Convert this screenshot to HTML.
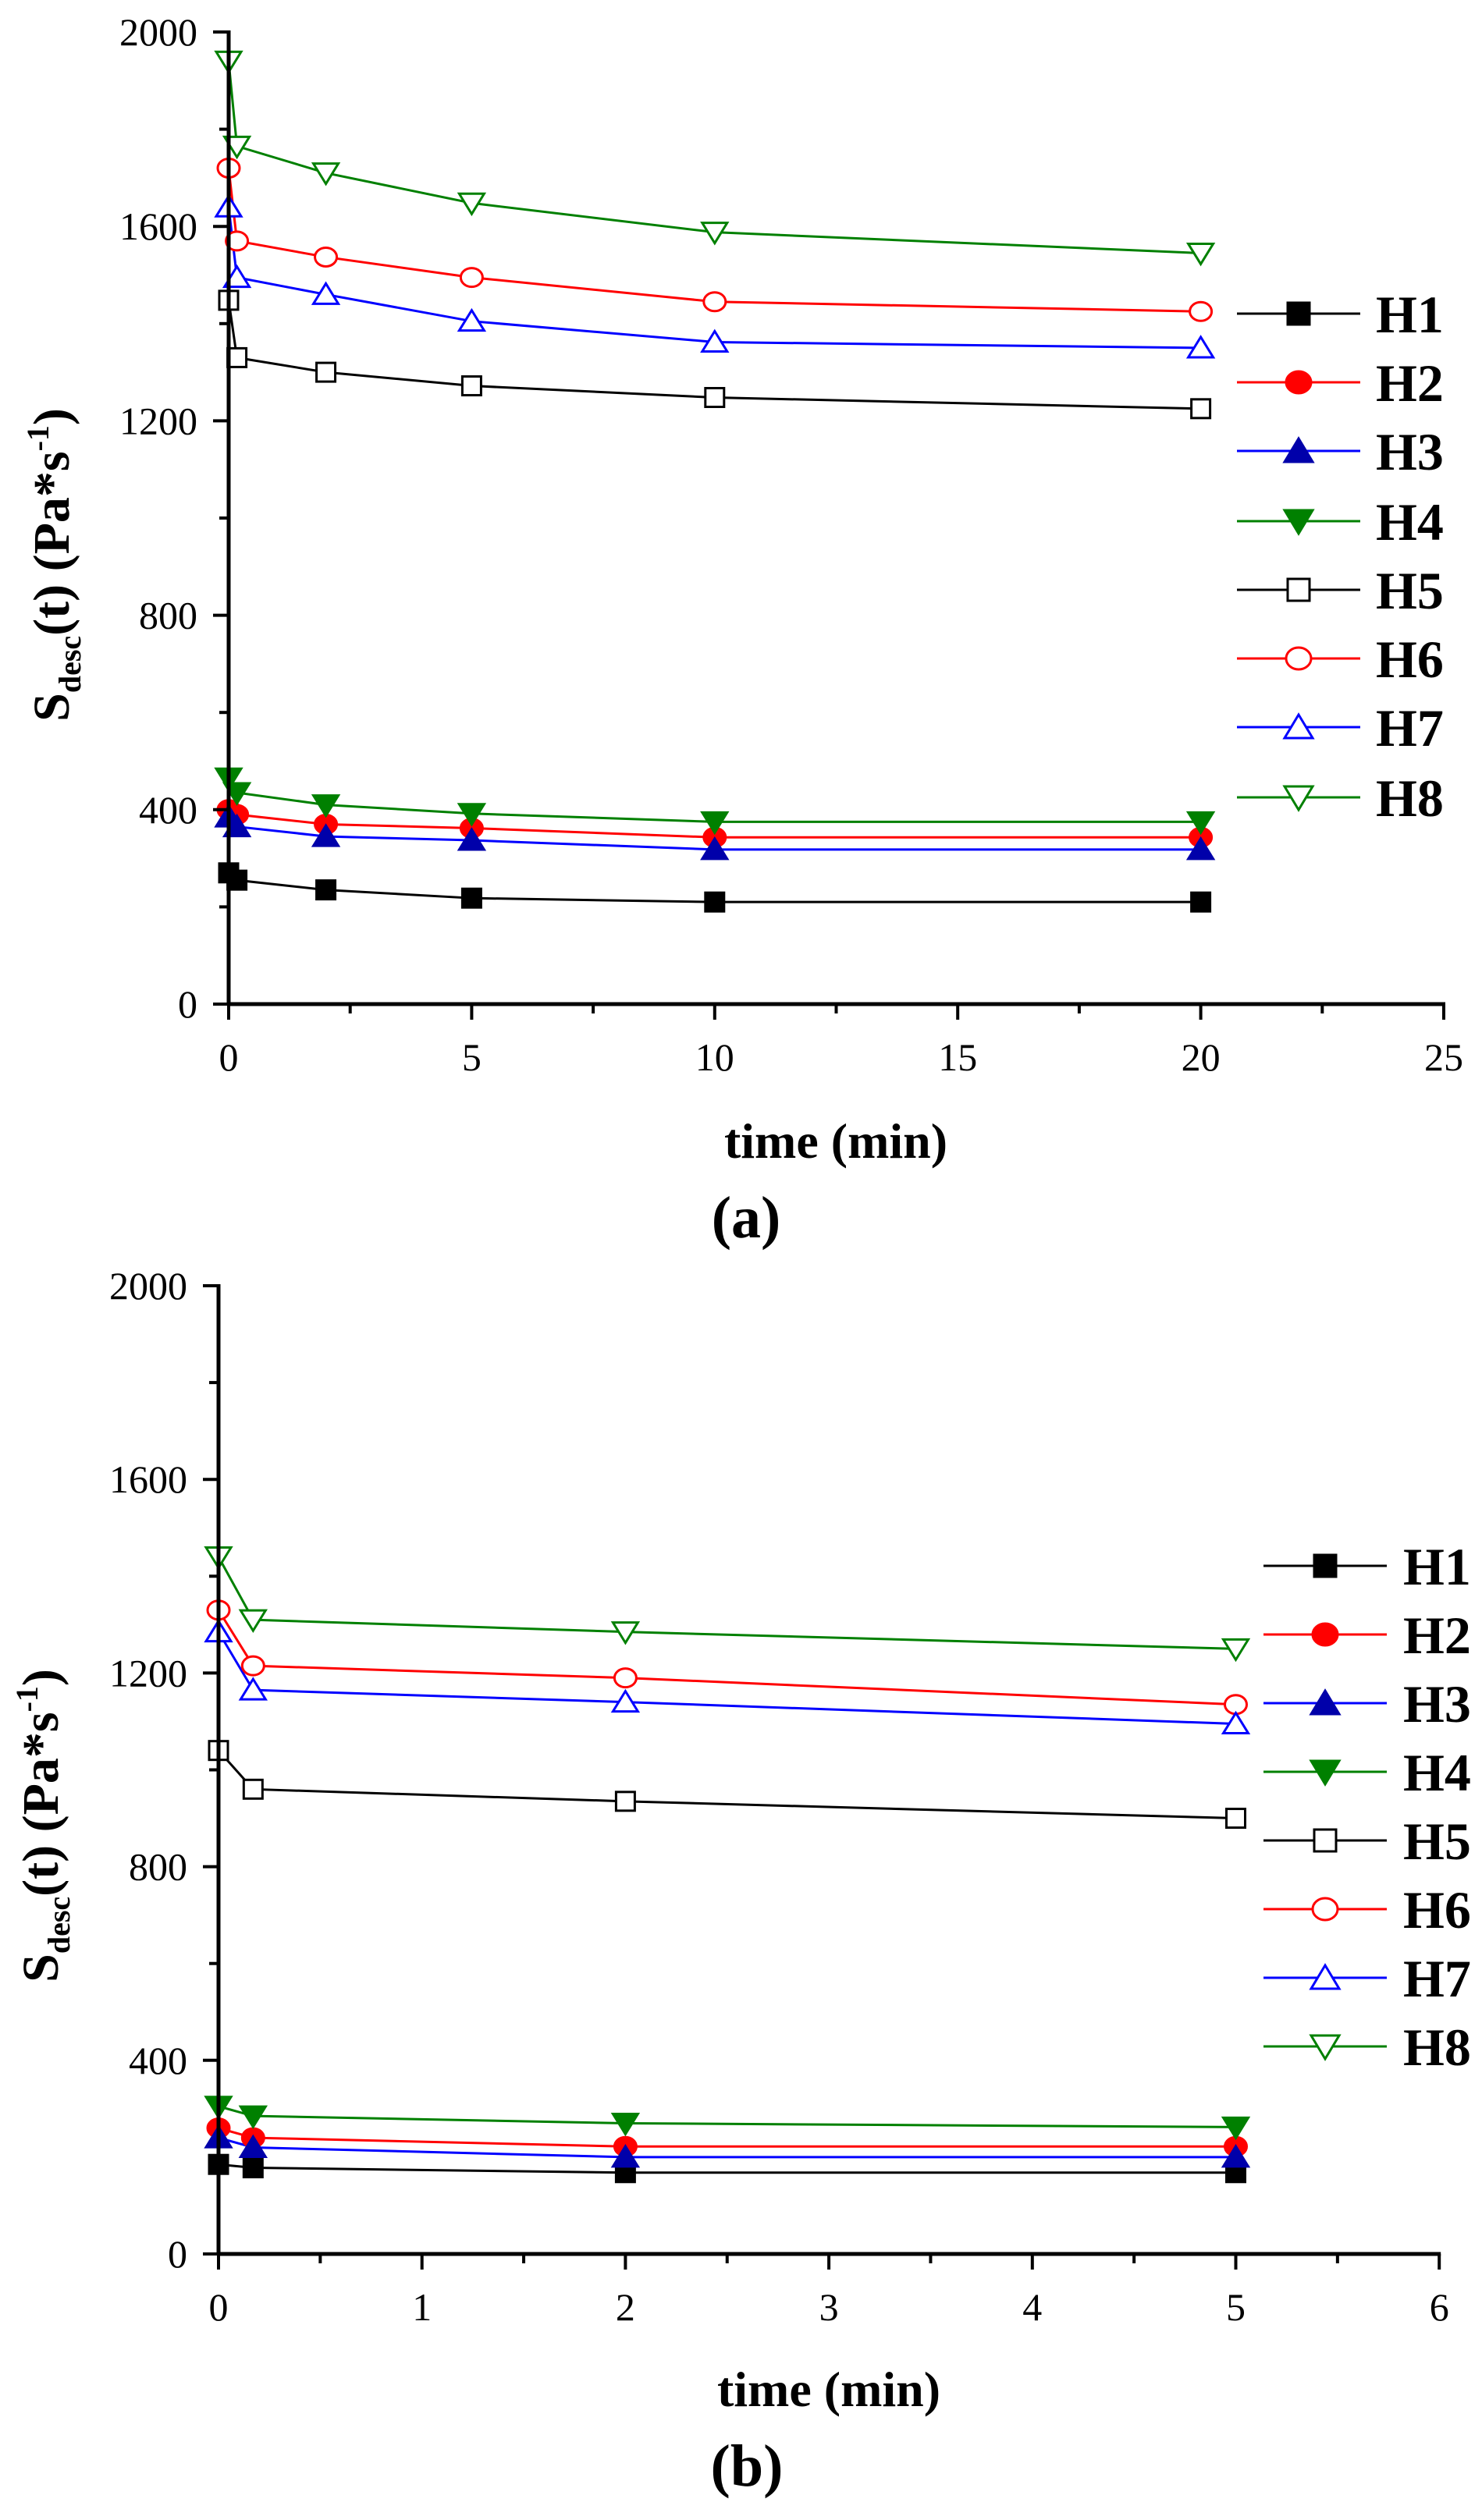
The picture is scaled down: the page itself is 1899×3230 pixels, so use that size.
<!DOCTYPE html>
<html><head><meta charset="utf-8"><style>
html,body{margin:0;padding:0;background:#fff;}
svg{display:block;}
text{font-family:"Liberation Serif",serif;}
</style></head><body>
<svg id="s" width="1899" height="3230" xmlns="http://www.w3.org/2000/svg"></svg>
<script>
const S=document.getElementById('s');let h='';
const series=[
 {n:'H1',c:'#000',m:'sq',f:1},{n:'H2',c:'#f00',m:'ci',f:1},{n:'H3',c:'#00a',lc:'#00f',m:'up',f:1},{n:'H4',c:'#008000',m:'dn',f:1},
 {n:'H5',c:'#000',m:'sq',f:0},{n:'H6',c:'#f00',m:'ci',f:0},{n:'H7',c:'#00f',m:'up',f:0},{n:'H8',c:'#008000',m:'dn',f:0}];
function mk(t,x,y,c,f,r){r=r||13;const fill=f?c:'#fff';const sw=3;
 if(t=='sq')return `<rect x="${x-r+1}" y="${y-r+1}" width="${2*r-2}" height="${2*r-2}" fill="${fill}" stroke="${c}" stroke-width="${sw}"/>`;
 if(t=='ci')return `<ellipse cx="${x}" cy="${y}" rx="${r+1}" ry="${r-1}" fill="${fill}" stroke="${c}" stroke-width="${sw}"/>`;
 if(t=='up')return `<polygon points="${x},${y-r-1} ${x+r+3},${y+r-1} ${x-r-3},${y+r-1}" fill="${fill}" stroke="${c}" stroke-width="${sw}"/>`;
 return `<polygon points="${x},${y+r+1} ${x+r+3},${y-r+1} ${x-r-3},${y-r+1}" fill="${fill}" stroke="${c}" stroke-width="${sw}"/>`;}
function chart(o){
 const X=t=>o.x0+t*o.kx, Y=v=>o.y0-v*o.ky;
 o.data.forEach((d,i)=>{const s=series[i];const pts=d.map((v,j)=>X(o.t[j])+','+Y(v)).join(' ');
  h+=`<polyline points="${pts}" fill="none" stroke="${s.lc||s.c}" stroke-width="3"/>`;});
 o.data.forEach((d,i)=>{const s=series[i];d.forEach((v,j)=>{h+=mk(s.m,X(o.t[j]),Y(v),s.c,s.f);});});
 h+=`<line x1="${o.x0}" y1="${Y(2000)-2}" x2="${o.x0}" y2="${o.y0+2}" stroke="#000" stroke-width="5"/>`;
 h+=`<line x1="${o.x0-2}" y1="${o.y0}" x2="${X(o.xmax)+2}" y2="${o.y0}" stroke="#000" stroke-width="5"/>`;
 for(let v=0;v<=2000;v+=200){const y=Y(v);const maj=v%400==0;
  h+=`<line x1="${o.x0-(maj?20:12)}" y1="${y}" x2="${o.x0}" y2="${y}" stroke="#000" stroke-width="4"/>`;
  if(maj)h+=`<text x="${o.x0-40}" y="${y+17}" font-size="50" text-anchor="end">${v}</text>`;}
 for(let t=0;t<=o.xmax+1e-9;t+=o.minor){const x=X(t);const maj=Math.abs(t/o.major-Math.round(t/o.major))<1e-6;
  h+=`<line x1="${x}" y1="${o.y0}" x2="${x}" y2="${o.y0+(maj?20:12)}" stroke="#000" stroke-width="4"/>`;
  if(maj)h+=`<text x="${x}" y="${o.y0+85}" font-size="50" text-anchor="middle">${Math.round(t)}</text>`;}
 series.forEach((s,i)=>{const y=o.ly[i];
  h+=`<line x1="${o.lx1}" y1="${y}" x2="${o.lx2}" y2="${y}" stroke="${s.lc||s.c}" stroke-width="3"/>`;
  h+=mk(s.m,(o.lx1+o.lx2)/2,y,s.c,s.f,15);
  h+=`<text x="${o.lt}" y="${y+24}" font-size="68" font-weight="bold">${s.n}</text>`;});
 h+=`<text x="${o.tx}" y="${o.ty}" font-size="64" font-weight="bold" text-anchor="middle">time (min)</text>`;
 h+=`<text x="${o.lbx}" y="${o.lby}" font-size="76" font-weight="bold" text-anchor="middle">${o.lab}</text>`;
 h+=`<text transform="translate(${o.yx},${o.yy}) rotate(-90)" font-size="66" font-weight="bold" text-anchor="middle">S<tspan font-size="40" dy="15">desc</tspan><tspan dy="-15">(t) (Pa*s</tspan><tspan font-size="40" dy="-26">-1</tspan><tspan dy="26">)</tspan></text>`;
}
chart({x0:293,kx:62.28,y0:1287,ky:0.623,xmax:25,major:5,minor:2.5,t:[0,0.17,2,5,10,20],
 data:[[270,255,235,218,210,210],[400,390,370,362,343,343],[385,365,345,337,318,318],[465,435,410,392,375,375],
 [1448,1330,1300,1272,1248,1225],[1720,1570,1537,1495,1445,1425],[1640,1495,1460,1405,1362,1350],[1940,1765,1710,1648,1588,1545]],
 lx1:1585,lx2:1743,lt:1763,ly:[402,490,578,668,756,844,932,1022],tx:1071,ty:1484,lbx:956,lby:1586,lab:'(a)',yx:88,yy:724});
chart({x0:280,kx:260.7,y0:2889,ky:0.6205,xmax:6,major:1,minor:0.5,t:[0,0.17,2,5],
 data:[[185,178,168,168],[260,240,222,222],[240,220,200,200],[305,285,270,262],
 [1040,960,935,900],[1330,1215,1190,1135],[1285,1165,1140,1095],[1440,1310,1285,1250]],
 lx1:1619,lx2:1777,lt:1798,ly:[2007,2095,2183,2271,2359,2447,2535,2623],tx:1062,ty:3084,lbx:957,lby:3186,lab:'(b)',yx:74,yy:2340});
S.innerHTML=h;
</script>
</body></html>
